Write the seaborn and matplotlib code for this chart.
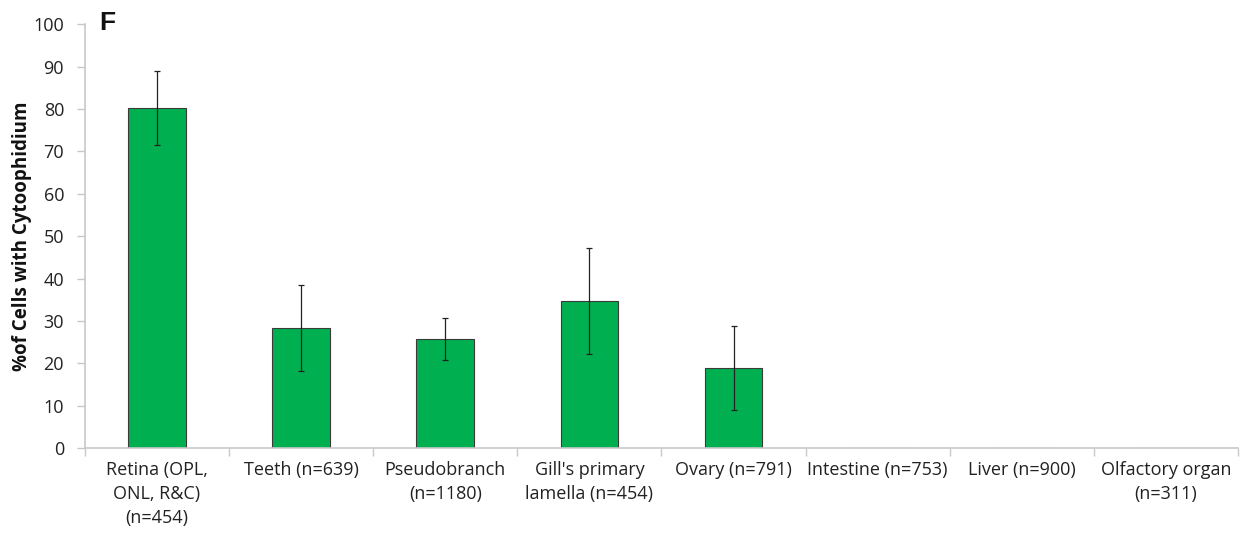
import numpy as np
import pandas as pd
import matplotlib
matplotlib.use("Agg")
import matplotlib.pyplot as plt
import seaborn as sns
from matplotlib.ticker import FixedLocator

# Tissue categories and measured percentages
tissues = [
    "Retina (OPL,\nONL, R&C)\n(n=454)",
    "Teeth (n=639)",
    "Pseudobranch\n(n=1180)",
    "Gill's primary\nlamella (n=454)",
    "Ovary (n=791)",
    "Intestine (n=753)",
    "Liver (n=900)",
    "Olfactory organ\n(n=311)",
]
percent = [80.2, 28.3, 25.7, 34.7, 18.9, 0.0, 0.0, 0.0]
err = [8.7, 10.1, 4.9, 12.5, 9.9, 0.0, 0.0, 0.0]

df = pd.DataFrame({"tissue": tissues, "percent": percent, "err": err})

sns.set_theme(style="white")
plt.rcParams["font.family"] = ["Open Sans", "DejaVu Sans"]

fig = plt.figure(figsize=(12.42, 5.36), dpi=100)
ax = fig.add_axes([0.0684, 0.164, 0.9284, 0.791])

sns.barplot(data=df, x="tissue", y="percent", color="#00B050", width=0.4,
            edgecolor="#3a3a3a", linewidth=0.8, saturation=1, errorbar=None, ax=ax)

# Error bars (only where there is a value)
mask = df["percent"] > 0
xs = np.arange(len(df))[mask.values]
ax.errorbar(xs, df["percent"][mask], yerr=df["err"][mask], fmt="none",
            ecolor="#222222", elinewidth=0.9, capsize=2.5, capthick=0.9, zorder=5)

ax.set_xlim(-0.5, len(df) - 0.5)
ax.set_ylim(0, 100)
ax.set_yticks(np.arange(0, 101, 10))
ax.tick_params(axis="y", labelsize=13, length=6, color="#c8c8c8", width=1, pad=9,
               labelcolor="#222222", left=True)
# category separators as x tick marks
ax.xaxis.set_minor_locator(FixedLocator(np.arange(-0.5, len(df), 1.0)))
ax.tick_params(axis="x", which="major", length=0, labelsize=13, pad=9, labelcolor="#222222")
ax.tick_params(axis="x", which="minor", length=6, color="#c8c8c8", width=1, bottom=True)
for lab in ax.get_xticklabels():
    lab.set_horizontalalignment("center")
    lab.set_multialignment("center")
    lab.set_linespacing(1.45)

for s in ["top", "right"]:
    ax.spines[s].set_visible(False)
for s in ["left", "bottom"]:
    ax.spines[s].set_color("#c8c8c8")
    ax.spines[s].set_linewidth(1.2)

ax.set_xlabel("")
ax.set_ylabel("%of Cells with Cytoophidium", fontsize=13.5, fontweight="bold",
              color="#111111", labelpad=1)

fig.text(0.080, 0.957, "F", fontsize=19, fontweight="bold", color="#111111",
         ha="left", va="center", family=["Liberation Sans", "DejaVu Sans"])

fig.savefig("out.png", dpi=100)
